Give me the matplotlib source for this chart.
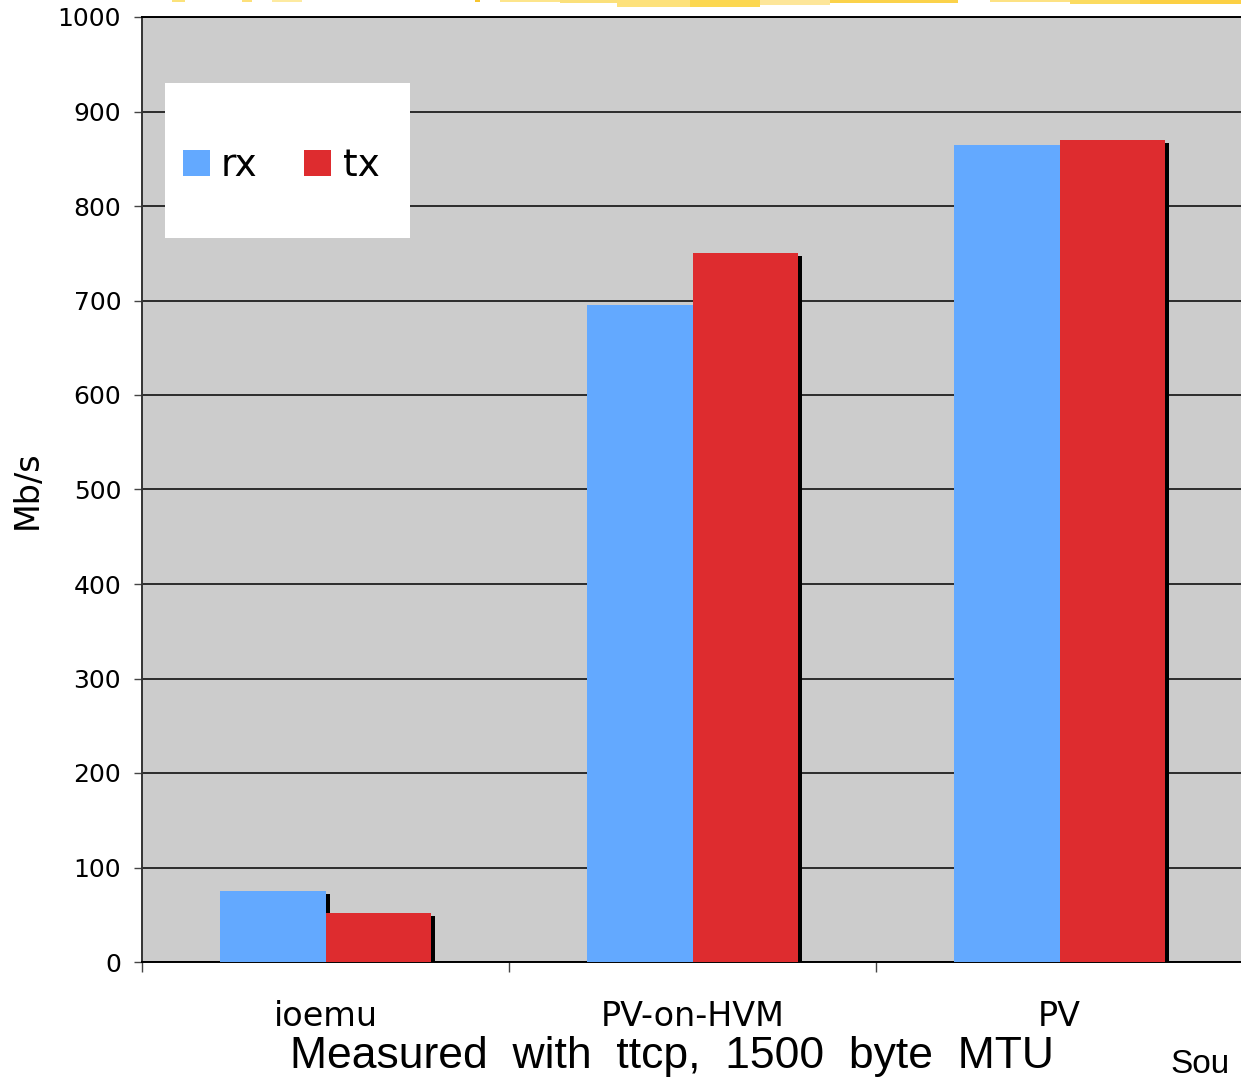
import matplotlib
matplotlib.use("Agg")
import matplotlib.pyplot as plt
import matplotlib.patheffects as pe
from matplotlib.patches import Rectangle, Patch
import numpy as np

# throughput per guest I/O mode
categories = ["ioemu", "PV-on-HVM", "PV"]
rx_values = [75, 695, 865]
tx_values = [52, 750, 870]
y_ticks = list(range(0, 1001, 100))

RX_COLOR = "#63a9ff"
TX_COLOR = "#de2c2f"
BG = "#cccccc"

W, H = 1241, 1081
fig = plt.figure(figsize=(W / 100, H / 100), dpi=100)
fig.patch.set_facecolor("white")

# axes: left edge 142px, bottom at 962px, category pitch 367px
ax = fig.add_axes([142 / W, 1 - 962 / H, 3 * 367 / W, (962 - 17) / H])
ax.set_facecolor(BG)

x = np.arange(len(categories)) + 0.5
bw = 105.5 / 367
shadow = [pe.SimplePatchShadow(offset=(2.9, -2.2), shadow_rgbFace="black", alpha=1.0),
          pe.Normal()]

rx_bars = ax.bar(x - bw / 2, rx_values, width=bw, color=RX_COLOR, zorder=3)
tx_bars = ax.bar(x + bw / 2, tx_values, width=bw, color=TX_COLOR, zorder=3)
for b in list(rx_bars) + list(tx_bars):
    b.set_path_effects(shadow)

ax.set_xlim(0, 3)
ax.set_ylim(0, 1000)
ax.set_yticks(y_ticks)
ax.yaxis.grid(True, color="black", linewidth=1.1, zorder=1)
ax.set_axisbelow(True)

# category boundaries get tick marks, centers get the labels
ax.set_xticks([0, 1, 2, 3])
ax.set_xticklabels([])
ax.set_xticks(x, minor=True)
ax.set_xticklabels(categories, minor=True, fontsize=24, family="DejaVu Sans")
ax.tick_params(axis="x", which="major", length=7, width=1, color="#444444", direction="out")
ax.tick_params(axis="x", which="minor", length=0, pad=27)
ax.tick_params(axis="y", length=6, width=1, color="#444444", direction="out",
               pad=9, labelsize=18)

for side in ("left", "bottom", "top"):
    ax.spines[side].set_color("black")
    ax.spines[side].set_linewidth(1.4)
ax.spines["left"].set_color("#333333")
ax.spines["right"].set_visible(False)

ax.set_ylabel("Mb/s", fontsize=24, labelpad=10)

# legend on a white panel
lx0, lx1, ly0, ly1 = 165, 410, 83, 238
panel = Rectangle(((lx0 - 142) / 1101, (962 - ly1) / 945), (lx1 - lx0) / 1101,
                  (ly1 - ly0) / 945, transform=ax.transAxes, facecolor="white",
                  edgecolor="none", zorder=4)
ax.add_patch(panel)
handles = [Patch(facecolor=RX_COLOR, label="rx"), Patch(facecolor=TX_COLOR, label="tx")]
leg = ax.legend(handles=handles, loc="center",
                bbox_to_anchor=((281 - 142) / 1101, (962 - 166) / 945),
                ncol=2, frameon=False, fontsize=27, handlelength=0.72, handleheight=0.72,
                handletextpad=0.3, columnspacing=1.25, borderpad=0)
leg.set_zorder(5)

fig.text(672 / W, 1 - 1068 / H, "Measured  with  ttcp,  1500  byte  MTU",
         ha="center", va="baseline", fontsize=32, family="Liberation Sans")
fig.text(1170 / W, 1 - 1080 / H, "Sou", ha="left", va="bottom", fontsize=24,
         family="Liberation Sans")

# brush stroke along the top edge
strokes = [(172, 185, 2, "#fbe27a"), (242, 252, 2, "#fde07a"), (272, 302, 2, "#fdeaa0"),
           (475, 480, 2, "#f7c52e"), (500, 560, 2, "#fde58c"), (560, 617, 3, "#fbe07a"),
           (617, 690, 7, "#fde17a"), (690, 760, 7, "#fcd74f"), (760, 830, 5, "#fde69a"),
           (830, 958, 3, "#fbd24a"), (990, 1070, 2, "#fde284"), (1070, 1140, 4, "#fbdb60"),
           (1140, 1241, 4, "#fcd043")]
for x0, x1, h, c in strokes:
    fig.add_artist(Rectangle((x0 / W, 1 - h / H), (x1 - x0) / W, h / H,
                             transform=fig.transFigure, facecolor=c, edgecolor="none"))

fig.savefig("out.png", dpi=100)
